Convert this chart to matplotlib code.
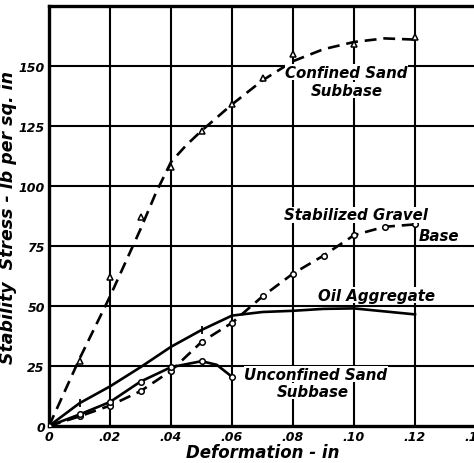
import matplotlib
matplotlib.use("Agg")
import matplotlib.pyplot as plt

# ── Data ─────────────────────────────────────────────────────────────────
# Confined sand subbase: measured points (triangles) and the drawn curve
confined_x = [0, 0.01, 0.02, 0.03, 0.04, 0.05, 0.06, 0.07, 0.08, 0.10, 0.12]
confined_y = [0, 27, 62, 87, 108, 123, 134, 145, 155, 159, 162]
confined_curve_x = [0, 0.005, 0.01, 0.015, 0.02, 0.025, 0.03, 0.035, 0.04,
                    0.045, 0.05, 0.06, 0.07, 0.08, 0.09, 0.10, 0.11, 0.12]
confined_curve_y = [0, 14, 28, 41, 54, 68, 82, 97, 110,
                    117, 123, 134, 144, 152, 157, 160, 161.5, 161]

# Stabilized gravel base (open circles, dashed)
gravel_x = [0, 0.01, 0.02, 0.03, 0.04, 0.05, 0.06, 0.07, 0.08, 0.09, 0.10, 0.11, 0.12]
gravel_y = [0, 4, 8.5, 14.5, 23, 35, 43, 54, 63.5, 71, 79.5, 83, 84]

# Oil aggregate (solid, small tick marks)
oil_x = [0, 0.01, 0.02, 0.03, 0.04, 0.05, 0.06, 0.07, 0.08, 0.09, 0.10, 0.12]
oil_y = [0, 9.5, 16.5, 24.5, 33, 40, 46, 47.5, 48, 48.8, 49, 46.5]
oil_marker_x = [0.01, 0.02, 0.04, 0.05, 0.06, 0.08, 0.10, 0.12]
oil_marker_y = [9.5, 16.5, 33, 40, 46, 48, 49, 46.5]

# Unconfined sand subbase (solid, open circles)
unconf_x = [0, 0.01, 0.02, 0.03, 0.04, 0.05, 0.055, 0.06]
unconf_y = [0, 4.8, 10, 18.5, 24.5, 27, 25.5, 20.5]
unconf_marker_x = [0, 0.01, 0.02, 0.03, 0.04, 0.05, 0.06]
unconf_marker_y = [0, 4.8, 10, 18.5, 24.5, 27, 20.5]

x_ticks = [0, 0.02, 0.04, 0.06, 0.08, 0.10, 0.12, 0.14]
x_tick_labels = ["0", ".02", ".04", ".06", ".08", ".10", ".12", ".14"]
y_ticks = [0, 25, 50, 75, 100, 125, 150]
y_tick_labels = ["0", "25", "50", "75", "100", "125", "150"]

FONT = dict(family="DejaVu Sans", style="italic", weight="bold")
DASH = (0, (4.5, 2.6))

fig = plt.figure(figsize=(4.74, 4.64), dpi=100)
ax = fig.add_axes([49 / 474, 37 / 464, 427 / 474, 420 / 464])
ax.set_xlim(0, 0.14)
ax.set_ylim(0, 175)

# ── Grid ─────────────────────────────────────────────────────────────────
for xv in x_ticks[1:]:
    ax.axvline(xv, color="black", lw=1.5, zorder=1)
for yv in y_ticks[1:] + [175]:
    ax.axhline(yv, color="black", lw=1.5, zorder=1)

# ── Curves ───────────────────────────────────────────────────────────────
ax.plot(confined_curve_x, confined_curve_y, color="black", lw=1.9,
        linestyle=DASH, zorder=3)
ax.plot(confined_x, confined_y, linestyle="none", marker="^", ms=4,
        mfc="white", mec="black", mew=1.1, zorder=4)

ax.plot(gravel_x, gravel_y, color="black", lw=1.9, linestyle=DASH,
        marker="o", ms=4, mfc="white", mec="black", mew=1.1, zorder=3)

ax.plot(oil_x, oil_y, color="black", lw=1.9, zorder=3)
ax.plot(oil_marker_x, oil_marker_y, linestyle="none", marker="|", ms=6,
        mec="black", mew=1.3, zorder=4)

ax.plot(unconf_x, unconf_y, color="black", lw=1.9, zorder=3)
ax.plot(unconf_marker_x, unconf_marker_y, linestyle="none", marker="o", ms=4,
        mfc="white", mec="black", mew=1.1, zorder=4)

# ── Curve labels ─────────────────────────────────────────────────────────
box = dict(facecolor="white", edgecolor="none", pad=0.3)
labels = [
    (0.0975, 147.5, "Confined Sand"),
    (0.0975, 140, "Subbase"),
    (0.1005, 88, "Stabilized Gravel"),
    (0.128, 79.5, "Base"),
    (0.1075, 54.5, "Oil Aggregate"),
    (0.0875, 21.5, "Unconfined Sand"),
    (0.0865, 14.5, "Subbase"),
]
for lx, ly, txt in labels:
    ax.text(lx, ly, txt, ha="center", va="center", fontsize=10.8,
            bbox=box, zorder=5, **FONT)

# ── Axes formatting ──────────────────────────────────────────────────────
ax.set_xticks(x_ticks)
ax.set_xticklabels(x_tick_labels, fontsize=9, **FONT)
ax.set_yticks(y_ticks)
ax.set_yticklabels(y_tick_labels, fontsize=9, **FONT)
ax.tick_params(length=0, pad=3)
ax.set_xlabel("Deformation - in", fontsize=12, labelpad=0, **FONT)
ax.set_ylabel("Stability  Stress - lb per sq. in", fontsize=12.5,
              labelpad=1, **FONT)

ax.spines["right"].set_visible(False)
for side in ("left", "bottom", "top"):
    ax.spines[side].set_linewidth(2.4)

fig.savefig("out.png", dpi=100)
